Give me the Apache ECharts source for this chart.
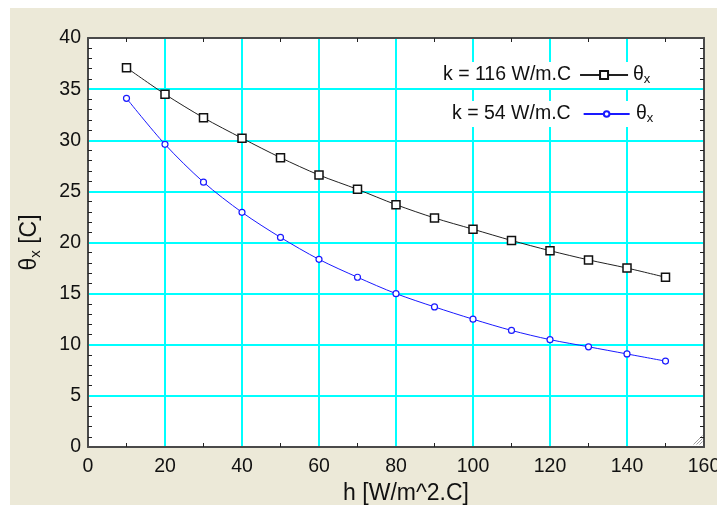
<!DOCTYPE html>
<html>
<head>
<meta charset="utf-8">
<script src="https://cdn.jsdelivr.net/npm/echarts@6/dist/echarts.min.js"></script>
<style>
  html, body { margin: 0; padding: 0; background: #ffffff; overflow: hidden; }
  #bg { position: absolute; left: 10px; top: 8px; width: 707px; height: 497px; background: #ECE9D8; }
  #chart { position: absolute; left: 0; top: 0; width: 717px; height: 507px; }
</style>
</head>
<body>
<div id="bg"></div>
<div id="chart"></div>
<script>
// Heat transfer coefficient h [W/m^2.C]
const hValues = [10, 20, 30, 40, 50, 60, 70, 80, 90, 100, 110, 120, 130, 140, 150];
// Temperature excess theta_x [C] for two conductivities
const thetaK116 = [37.1, 34.5, 32.2, 30.2, 28.3, 26.6, 25.2, 23.7, 22.4, 21.3, 20.2, 19.2, 18.3, 17.5, 16.6];
const thetaK54  = [34.1, 29.6, 25.9, 22.95, 20.5, 18.35, 16.6, 15.0, 13.7, 12.5, 11.4, 10.5, 9.8, 9.1, 8.4];
const seriesNames = ['k = 116 W/m.C', 'k = 54 W/m.C'];

const FONT = '"Liberation Sans", Arial, sans-serif';
const axisColor = '#4a4a4a';
const gridColor = '#00ffff';

const chart = echarts.init(document.getElementById('chart'), null, {
  renderer: 'canvas', width: 717, height: 507
});

const pairs = (xs, ys) => xs.map((x, i) => [x, ys[i]]);

const frameAxis = {
  axisLine: { show: true, onZero: false, lineStyle: { color: axisColor, width: 2 } },
  axisTick: { show: false, inside: true },
  axisLabel: { show: false },
  splitLine: { show: false }
};

const subText = (size, subSize) => ({
  t: { fontFamily: FONT, fontSize: size, fill: '#111', lineHeight: 22 },
  s: { fontFamily: FONT, fontSize: subSize, fill: '#111', verticalAlign: 'bottom', lineHeight: 22 }
});

chart.setOption({
  backgroundColor: 'transparent',
  animation: false,
  grid: {
    left: 88, top: 38, right: 13, bottom: 60,
    outerBoundsMode: 'none', containLabel: false,
    show: true, backgroundColor: '#ffffff', borderWidth: 0
  },
  xAxis: [
    {
      type: 'value', min: 0, max: 160, interval: 20, position: 'bottom',
      name: 'h [W/m^2.C]', nameLocation: 'middle', nameGap: 27,
      nameTextStyle: { fontFamily: FONT, fontSize: 23, color: '#111', padding: [0, 0, 0, 20] },
      axisLine: { show: true, onZero: false, lineStyle: { color: axisColor, width: 2 } },
      axisTick: { show: false, inside: true },
      minorTick: { show: true, splitNumber: 2, length: 4, lineStyle: { color: '#222', width: 1 } },
      axisLabel: { fontFamily: FONT, fontSize: 19.5, color: '#111', margin: 10 },
      splitLine: { show: true, lineStyle: { color: gridColor, width: 2 } }
    },
    Object.assign({
      type: 'value', min: 0, max: 160, interval: 20, position: 'top',
      minorTick: { show: true, splitNumber: 2, length: 4, lineStyle: { color: '#222', width: 1 } }
    }, frameAxis)
  ],
  yAxis: [
    {
      type: 'value', min: 0, max: 40, interval: 5, position: 'left',
      name: '{t|θ}{s|x}{t| [C]}', nameLocation: 'middle', nameGap: 45,
      nameTextStyle: {
        fontFamily: FONT, color: '#111',
        rich: {
          t: { fontFamily: FONT, fontSize: 23, color: '#111', lineHeight: 26 },
          s: { fontFamily: FONT, fontSize: 15, color: '#111', verticalAlign: 'bottom', lineHeight: 26 }
        }
      },
      axisLine: { show: true, onZero: false, lineStyle: { color: axisColor, width: 2 } },
      axisTick: { show: false, inside: true },
      minorTick: { show: true, splitNumber: 5, length: 4, lineStyle: { color: '#222', width: 1 } },
      axisLabel: { fontFamily: FONT, fontSize: 19.5, color: '#111', margin: 7 },
      splitLine: { show: true, lineStyle: { color: gridColor, width: 2 } }
    },
    Object.assign({
      type: 'value', min: 0, max: 40, interval: 5, position: 'right',
      minorTick: { show: true, splitNumber: 5, length: 4, lineStyle: { color: '#222', width: 1 } }
    }, frameAxis)
  ],
  legend: [
    {
      data: [seriesNames[0]], left: 437, top: 62, align: 'right',
      orient: 'horizontal', backgroundColor: '#ffffff',
      padding: [3, 28, 3, 6], itemWidth: 48, itemHeight: 10,
      textStyle: { fontFamily: FONT, fontSize: 19.5, color: '#111', padding: [0, 4, 0, 0] }
    },
    {
      data: [seriesNames[1]], left: 446, top: 101, align: 'right',
      orient: 'horizontal', backgroundColor: '#ffffff',
      padding: [3, 28, 3, 6], itemWidth: 46, itemHeight: 7,
      textStyle: { fontFamily: FONT, fontSize: 19.5, color: '#111', padding: [0, 8, 0, 0] }
    }
  ],
  graphic: [
    { type: 'text', left: 633, top: 65, z: 100, style: { text: '{t|θ}{s|x}', rich: subText(19.5, 13) } },
    { type: 'text', left: 636, top: 104, z: 100, style: { text: '{t|θ}{s|x}', rich: subText(19.5, 13) } },
    // size grip in the plot corner
    {
      type: 'group', left: 691, top: 433, z: 50,
      children: [
        { type: 'line', shape: { x1: 3, y1: 12, x2: 12, y2: 3 }, style: { stroke: '#a0a0a0', lineWidth: 1 } },
        { type: 'line', shape: { x1: 6, y1: 12, x2: 12, y2: 6 }, style: { stroke: '#a0a0a0', lineWidth: 1 } },
        { type: 'line', shape: { x1: 9, y1: 12, x2: 12, y2: 9 }, style: { stroke: '#a0a0a0', lineWidth: 1 } }
      ]
    }
  ],
  series: [
    {
      name: seriesNames[0], type: 'line', xAxisIndex: 0, yAxisIndex: 0,
      data: pairs(hValues, thetaK116), smooth: 0.3,
      symbol: 'rect', symbolSize: 8,
      lineStyle: { color: '#222222', width: 1 },
      itemStyle: { color: '#ffffff', borderColor: '#111111', borderWidth: 1.5 }
    },
    {
      name: seriesNames[1], type: 'line', xAxisIndex: 0, yAxisIndex: 0,
      data: pairs(hValues, thetaK54), smooth: 0.3,
      symbol: 'circle', symbolSize: 6,
      lineStyle: { color: '#1a1aff', width: 1 },
      itemStyle: { color: '#ffffff', borderColor: '#1a1aff', borderWidth: 1.2 }
    }
  ]
});
</script>
</body>
</html>
